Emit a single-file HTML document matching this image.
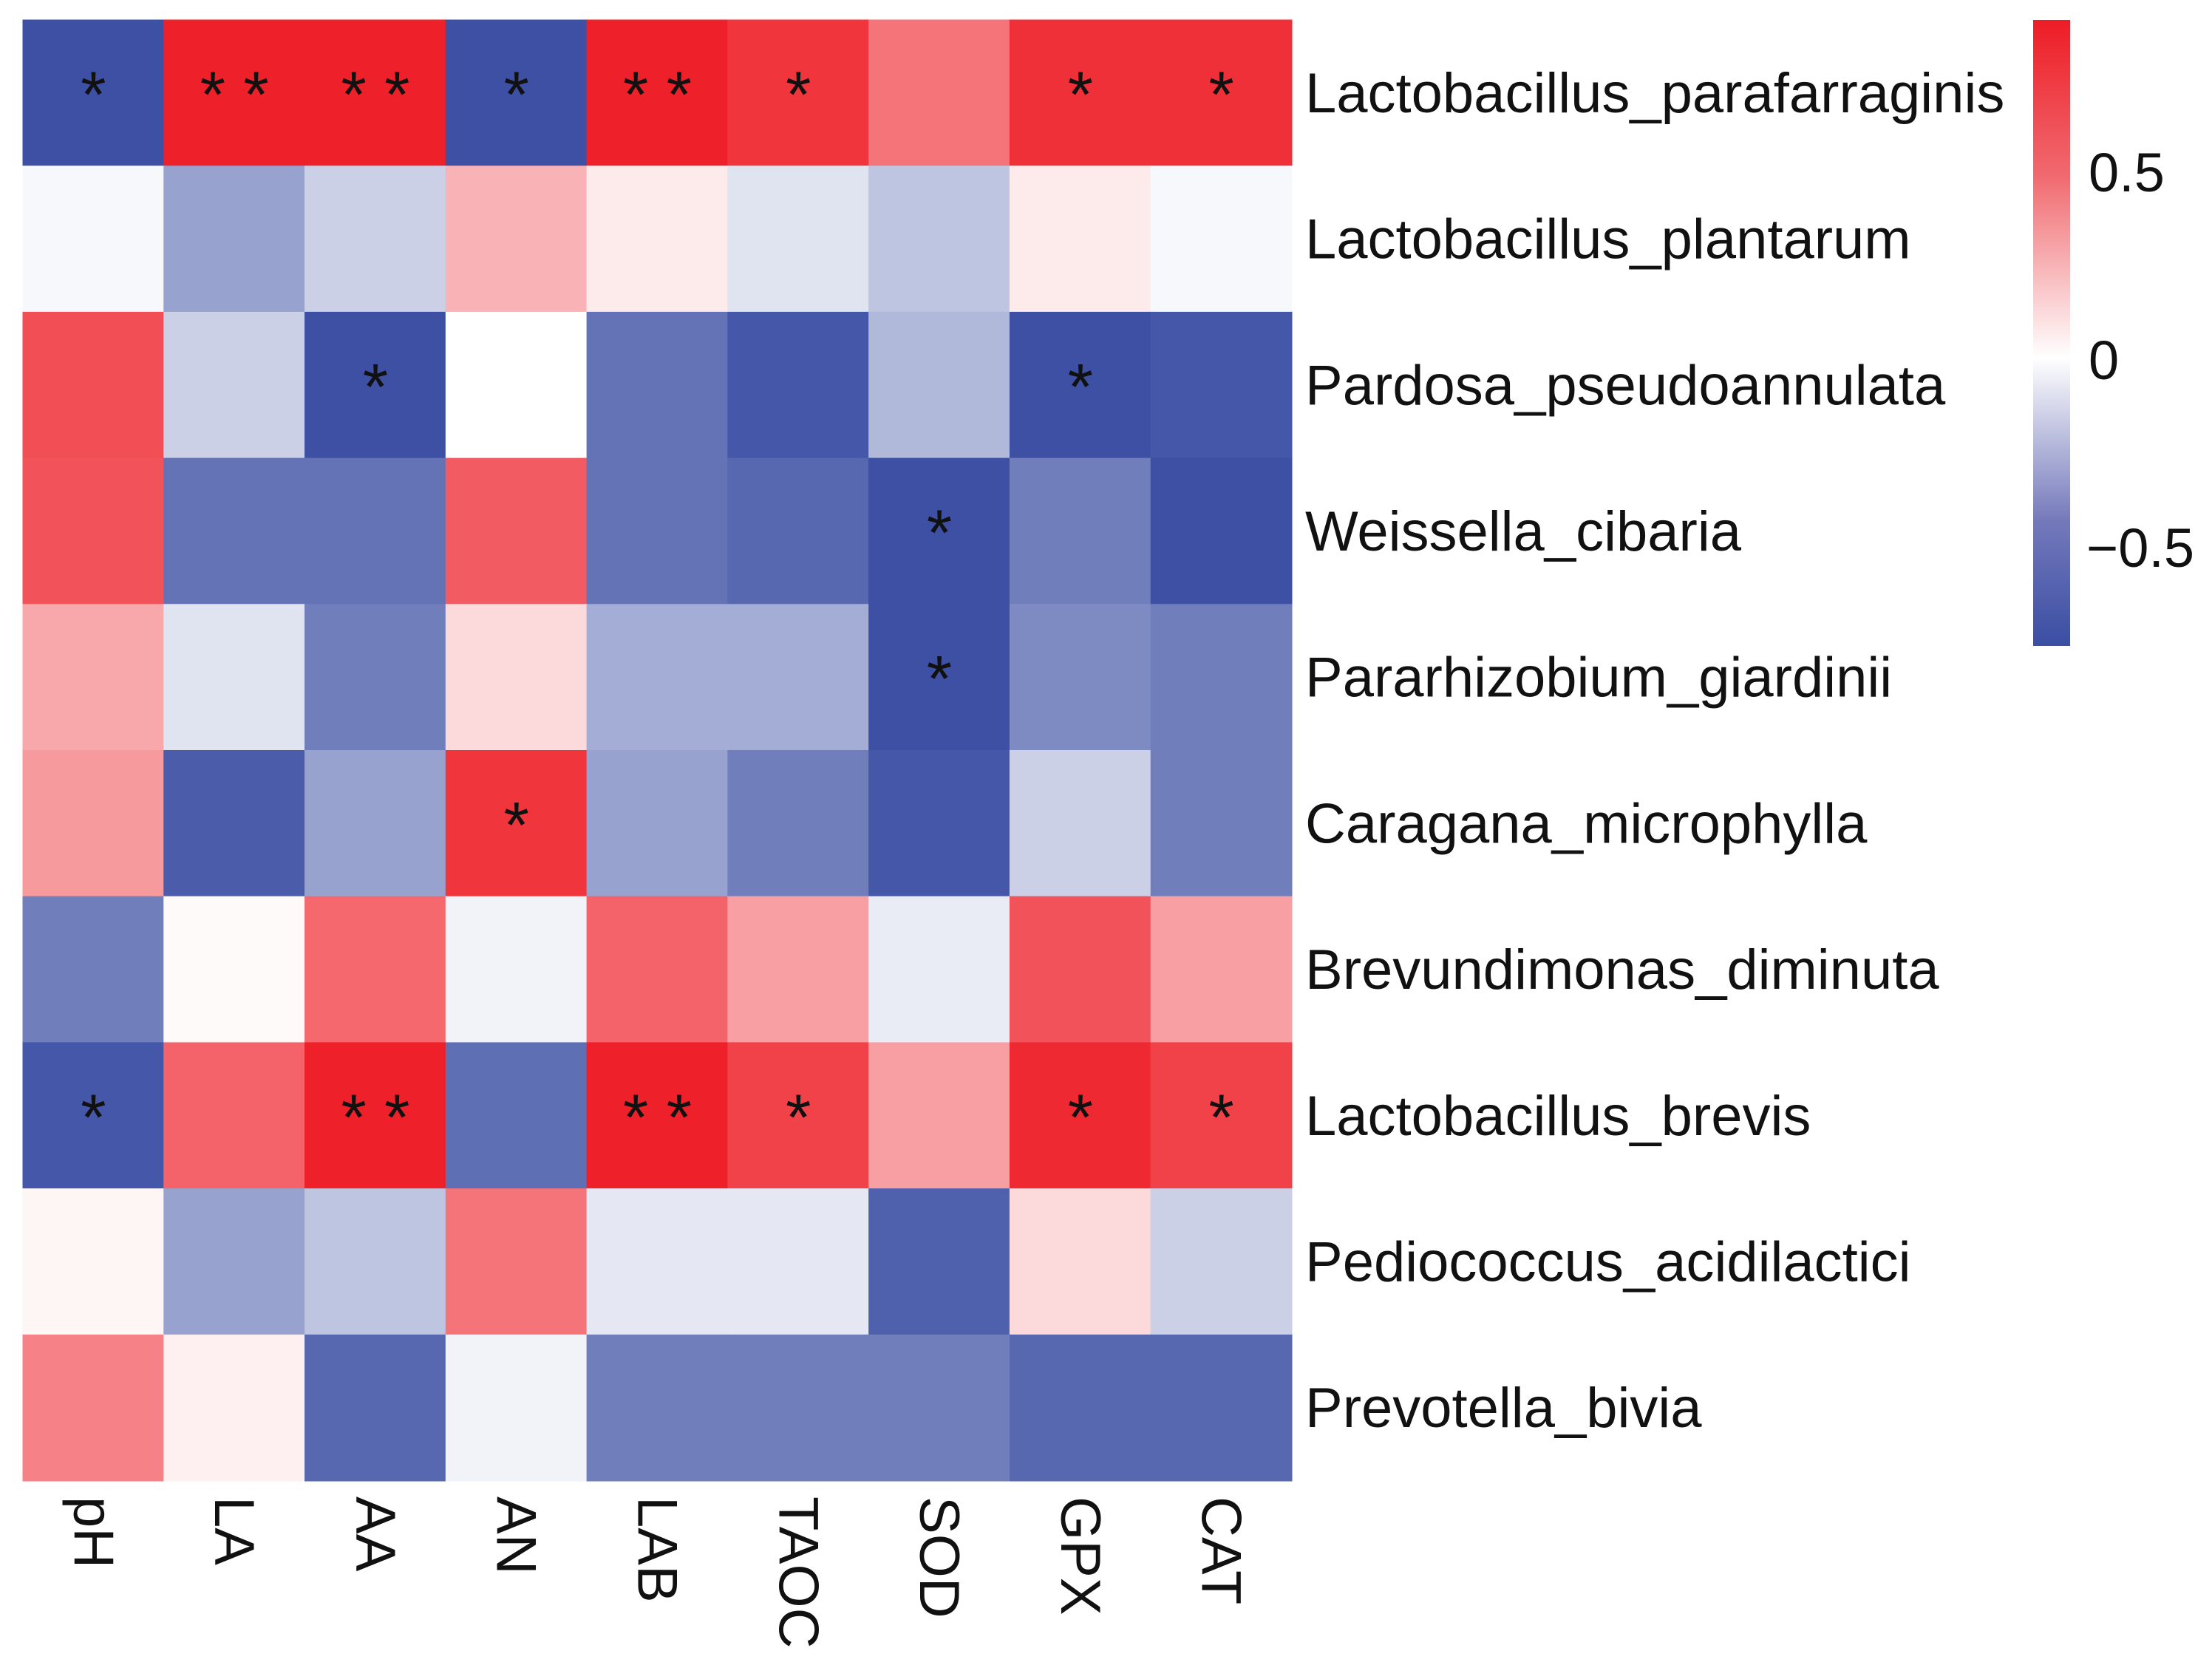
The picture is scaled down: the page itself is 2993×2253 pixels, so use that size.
<!DOCTYPE html>
<html><head><meta charset="utf-8"><style>
html,body{margin:0;padding:0;background:#fff;}
svg{display:block;font-family:"Liberation Sans",sans-serif;}
</style></head><body>
<svg id="chart" width="2993" height="2253" viewBox="0 0 2993 2253" xmlns="http://www.w3.org/2000/svg">
<defs><linearGradient id="cbar" x1="0" y1="0" x2="0" y2="1">
<stop offset="0" stop-color="#ee1c25"/><stop offset="0.25" stop-color="#f06a70"/>
<stop offset="0.54" stop-color="#ffffff"/><stop offset="0.8" stop-color="#7479bb"/>
<stop offset="1" stop-color="#3a4ea3"/></linearGradient></defs>
<g id="cells"></g>
<g id="stars"></g>
<g id="rowlabels"></g>
<g id="collabels"></g>
<rect x="2751" y="27" width="50" height="847" fill="url(#cbar)"/>
<g id="legendticks"></g>
</svg>
<script>
const columns = ["pH","LA","AA","AN","LAB","TAOC","SOD","GPX","CAT"];
const rows = ["Lactobacillus_parafarraginis","Lactobacillus_plantarum","Pardosa_pseudoannulata","Weissella_cibaria","Pararhizobium_giardinii","Caragana_microphylla","Brevundimonas_diminuta","Lactobacillus_brevis","Pediococcus_acidilactici","Prevotella_bivia"];
const values = [
[-0.75,0.88,0.88,-0.75,0.88,0.8,0.55,0.82,0.82],
[-0.03,-0.4,-0.2,0.3,0.08,-0.12,-0.25,0.08,-0.03],
[0.7,-0.2,-0.75,0.0,-0.6,-0.72,-0.3,-0.75,-0.72],
[0.68,-0.6,-0.6,0.65,-0.6,-0.65,-0.75,-0.55,-0.75],
[0.35,-0.12,-0.55,0.15,-0.35,-0.35,-0.75,-0.5,-0.55],
[0.4,-0.7,-0.4,0.8,-0.4,-0.55,-0.72,-0.2,-0.55],
[-0.55,0.02,0.6,-0.05,0.62,0.38,-0.08,0.68,0.38],
[-0.72,0.62,0.88,-0.62,0.88,0.75,0.38,0.85,0.75],
[0.04,-0.4,-0.25,0.55,-0.1,-0.1,-0.68,0.15,-0.2],
[0.5,0.06,-0.65,-0.05,-0.55,-0.55,-0.55,-0.65,-0.65]];
const stars = [
["*","**","**","*","**","*","","*","*"],
["","","","","","","","",""],
["","","*","","","","","*",""],
["","","","","","","*","",""],
["","","","","","","*","",""],
["","","","*","","","","",""],
["","","","","","","","",""],
["*","","**","","**","*","","*","*"],
["","","","","","","","",""],
["","","","","","","","",""]];
const legendTicks = [0.5, 0, -0.5];
const legendLabels = ["0.5","0","\u22120.5"];

const X0=31, X1=1748, Y0=27, Y1=2004;
const cw=(X1-X0)/columns.length, ch=(Y1-Y0)/rows.length;
const xs=i=>X0+i*cw, ys=j=>Y0+j*ch;
const ly=v=>487-v*508;
const NS="http://www.w3.org/2000/svg";
const RED=[238,28,37], BLUE=[58,78,163];
function color(v){
  const t=v>=0?Math.min(v/0.9,1):Math.min(-v/0.76,1);
  const c=v>=0?RED:BLUE;
  return "rgb("+c.map(k=>Math.round(255+(k-255)*t)).join(",")+")";
}
const gc=document.getElementById("cells"), gs=document.getElementById("stars");
rows.forEach((r,j)=>{
  columns.forEach((c,i)=>{
    const el=document.createElementNS(NS,"rect");
    
    
    el.setAttribute("x",xs(i)-0.5);el.setAttribute("y",ys(j)-0.5);
    el.setAttribute("width",cw+1);el.setAttribute("height",ch+1);
    el.setAttribute("fill",color(values[j][i]));
    gc.appendChild(el);
    if(stars[j][i]){
      const t=document.createElementNS(NS,"text");
      
      
      t.setAttribute("x",xs(i)+cw/2);t.setAttribute("y",ys(j)+ch/2+32);
      t.setAttribute("text-anchor","middle");t.setAttribute("font-size","88");
      t.setAttribute("fill","#111");
      t.textContent=stars[j][i].split("").join(" ");
      gs.appendChild(t);
    }
  });
  const l=document.createElementNS(NS,"text");
  
  
  l.setAttribute("x",1766);l.setAttribute("y",ys(j)+ch/2+26);
  l.setAttribute("font-size","76");l.setAttribute("fill","#111");
  l.textContent=r;
  document.getElementById("rowlabels").appendChild(l);
});
columns.forEach((c,i)=>{
  const t=document.createElementNS(NS,"text");
  
  
  const x=xs(i)+cw/2-26, y=2025;
  t.setAttribute("transform","translate("+x+","+y+") rotate(90)");
  t.setAttribute("font-size","76");t.setAttribute("fill","#111");
  t.textContent=c;
  document.getElementById("collabels").appendChild(t);
});
legendTicks.forEach((v,k)=>{
  const t=document.createElementNS(NS,"text");
  
  
  t.setAttribute("x",v<0?2823:2826);t.setAttribute("y",ly(v)+26);
  t.setAttribute("font-size","74");t.setAttribute("fill","#111");
  t.textContent=legendLabels[k];
  document.getElementById("legendticks").appendChild(t);
});
</script>
</body></html>
